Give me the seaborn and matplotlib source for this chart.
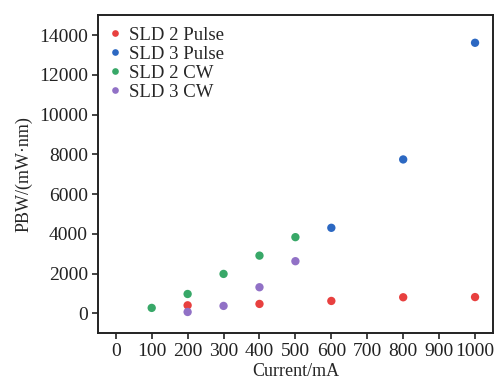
import matplotlib
matplotlib.use("Agg")
import matplotlib.pyplot as plt
import seaborn as sns
import pandas as pd

sld2_pulse_x = [200, 400, 600, 800, 1000]
sld2_pulse_y = [400, 470, 620, 805, 815]
sld3_pulse_x = [600, 800, 1000]
sld3_pulse_y = [4300, 7740, 13610]
sld2_cw_x = [100, 200, 300, 400, 500]
sld2_cw_y = [270, 970, 1980, 2900, 3830]
sld3_cw_x = [200, 300, 400, 500]
sld3_cw_y = [65, 370, 1310, 2620]

series_names = ["SLD 2 Pulse", "SLD 3 Pulse", "SLD 2 CW", "SLD 3 CW"]
colors = ["#e8403f", "#2c68c2", "#38a868", "#9171c6"]

rows = []
for name, xs, ys in zip(series_names,
                        [sld2_pulse_x, sld3_pulse_x, sld2_cw_x, sld3_cw_x],
                        [sld2_pulse_y, sld3_pulse_y, sld2_cw_y, sld3_cw_y]):
    for x, y in zip(xs, ys):
        rows.append({"Current": x, "PBW": y, "Series": name})
df = pd.DataFrame(rows)

sns.set_style("ticks")
plt.rcParams['font.family'] = ['Liberation Serif', 'DejaVu Serif']

fig = plt.figure(figsize=(4.99, 3.79), dpi=100)
ax = fig.add_axes([0.196, 0.121, 0.792, 0.839])
sns.scatterplot(data=df, x="Current", y="PBW", hue="Series", hue_order=series_names,
                palette=colors, s=36, edgecolor="none", ax=ax)

ax.set_xlim(-50, 1050)
ax.set_ylim(-1000, 15000)
ax.set_xticks(list(range(0, 1001, 100)))
ax.set_yticks(list(range(0, 14001, 2000)))
ax.tick_params(axis="both", labelsize=14, direction="out", length=4, width=1.2,
               colors="#222222", pad=3)
for sp in ax.spines.values():
    sp.set_linewidth(1.4)
    sp.set_color("#222222")
ax.set_xlabel("Current/mA", fontsize=13, labelpad=2)
ax.set_ylabel("PBW/(mW·nm)", fontsize=13, labelpad=5)
leg = ax.legend(loc="upper left", bbox_to_anchor=(0.01, 0.975), frameon=False,
                fontsize=13.5, handletextpad=0.25, handlelength=1.0,
                labelspacing=0.1, borderaxespad=0.0, markerscale=0.8,
                borderpad=0.2)

fig.savefig("out.png", dpi=100)
